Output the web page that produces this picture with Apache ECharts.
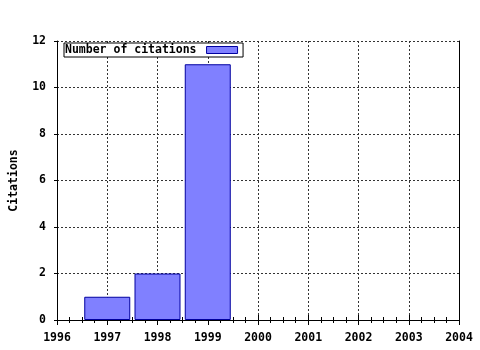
<!DOCTYPE html>
<html><head><meta charset="utf-8">
<script src="https://cdn.jsdelivr.net/npm/echarts@6/dist/echarts.min.js"></script>
<style>html,body{margin:0;padding:0;background:#fff}#c{width:480px;height:350px}</style>
</head><body><div id="c"></div>
<script>
const years = [1997, 1998, 1999];
const citations = [1, 2, 11];
const seriesName = 'Number of citations';
const yAxisName = 'Citations';

const FONT = '"DejaVu Sans Mono", monospace';
const txt = {fontFamily: FONT, fontWeight: 'bold', fontSize: 11.5, color: '#000'};
const gridLine = {show: true, lineStyle: {color: '#333', type: [2, 2], width: 1}};
const chart = echarts.init(document.getElementById('c'), null, {renderer: 'canvas'});
chart.setOption({
  animation: false,
  backgroundColor: '#fff',
  grid: {left: 57, right: 21, top: 41, bottom: 30, containLabel: false, outerBoundsMode: 'none'},
  legend: {
    left: 64, top: 43, orient: 'horizontal', align: 'right',
    backgroundColor: '#fff',
    borderColor: '#000', borderWidth: 1, borderRadius: 0,
    padding: [1, 5, 1, 1], itemWidth: 31, itemHeight: 7, itemGap: 0,
    textStyle: Object.assign({}, txt, {padding: [0, 5, 0, 0]}),
    icon: 'rect',
    itemStyle: {color: '#8080ff', borderColor: '#0000a0', borderWidth: 1},
    data: [{name: seriesName}]
  },
  xAxis: [{
    type: 'value', min: 1996, max: 2004, interval: 1,
    axisLine: {lineStyle: {color: '#000', width: 1}},
    axisTick: {inside: true, length: 5, lineStyle: {color: '#000'}},
    minorTick: {show: true, splitNumber: 4, length: 3, lineStyle: {color: '#000'}},
    axisLabel: Object.assign({}, txt, {margin: 12, formatter: v => String(v)}),
    splitLine: gridLine
  }, {
    type: 'value', min: 1996, max: 2004, interval: 1, position: 'top',
    axisLine: {show: true, lineStyle: {color: '#000'}},
    axisTick: {inside: true, length: 5, lineStyle: {color: '#000'}},
    minorTick: {show: true, splitNumber: 4, length: 3, lineStyle: {color: '#000'}},
    axisLabel: {show: false}, splitLine: {show: false}
  }],
  yAxis: [{
    type: 'value', min: 0, max: 12, interval: 2,
    name: yAxisName, nameLocation: 'middle', nameGap: 37, nameRotate: 90,
    nameTextStyle: txt,
    axisLine: {show: true, lineStyle: {color: '#000'}},
    axisTick: {show: true, inside: false, length: 3, lineStyle: {color: '#000'}},
    axisLabel: Object.assign({}, txt, {margin: 11}),
    splitLine: gridLine
  }, {
    type: 'value', min: 0, max: 12, interval: 2, position: 'right',
    axisLine: {show: true, lineStyle: {color: '#000'}},
    axisTick: {show: false}, axisLabel: {show: false}, splitLine: {show: false}
  }],
  series: [{
    name: seriesName, type: 'bar', xAxisIndex: 0, yAxisIndex: 0,
    barWidth: 46,
    itemStyle: {color: '#8080ff', borderColor: '#0000a0', borderWidth: 1},
    data: years.map((y, i) => [y, citations[i]])
  }]
});
</script></body></html>
